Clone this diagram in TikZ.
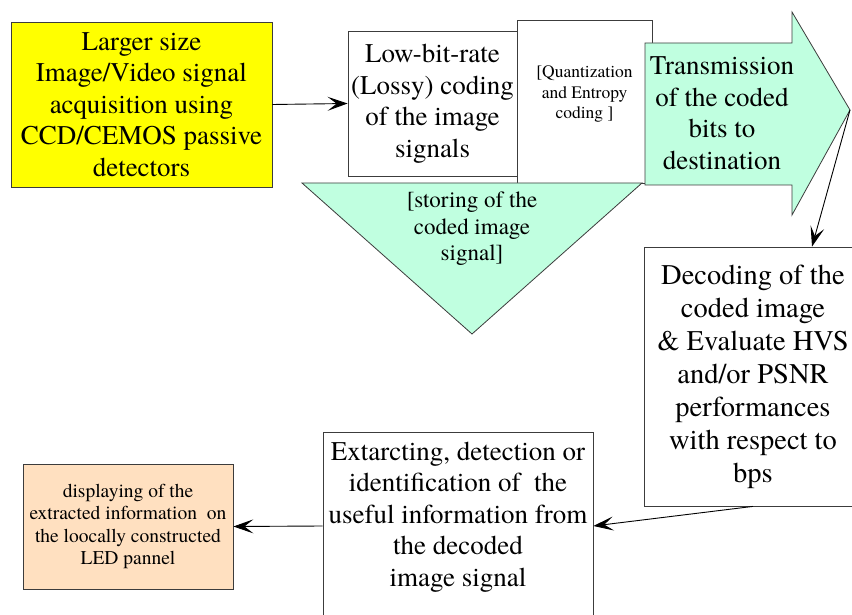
\documentclass[tikz,border=0pt]{standalone}
\usepackage{fontspec}
\setmainfont{TeX Gyre Termes}
\usetikzlibrary{arrows.meta,positioning,calc}
\definecolor{acqyellow}{RGB}{255,255,0}
\definecolor{txgreen}{RGB}{192,255,224}
\definecolor{disppeach}{RGB}{255,224,192}
\definecolor{edgegray}{RGB}{60,60,60}
\newcommand{\txtbig}{\fontsize{27}{31.5}\selectfont}
\newcommand{\txtdec}{\fontsize{28.5}{33}\selectfont}
\newcommand{\txtmid}{\fontsize{23}{26.5}\selectfont}
\newcommand{\txtsmall}{\fontsize{17.5}{20.5}\selectfont}
\newcommand{\txtdisp}{\fontsize{19.5}{22.3}\selectfont}

\begin{document}
\begin{tikzpicture}[x=1pt,y=-1pt,
  box/.style={draw=edgegray,line width=0.8pt,inner sep=0pt,align=center},
  conn/.style={-{Stealth[length=20pt,width=14pt,inset=9pt]},line width=0.9pt}]
  \useasboundingbox (0,0) rectangle (852,615);
  \node[box,fill=acqyellow,minimum width=261pt,minimum height=165pt,font=\txtbig] (acq) at (141.5,104.5) {Larger size\\Image/Video signal\\acquisition using\\CCD/CEMOS passive\\detectors};
  \node[box,fill=white,minimum width=169pt,minimum height=145pt,font=\txtbig] (lbr) at (432.5,103.5) {Low-bit-rate\\(Lossy) coding\\of the image\\signals};
  \node[box,fill=white,minimum width=135pt,minimum height=163pt] (quant) at (584.5,101.5) {};
  \node[font=\txtsmall,align=center] (quanttxt) at (584.5,94) {[Quantization\\and Entropy\\coding ]};
  % storing triangle
  \draw[edgegray,line width=0.8pt,fill=txgreen] (302,183) -- (642,183) -- (472,334) -- cycle;
  \node[font=\txtmid,align=center] (store) at (472,229) {[storing of the\\coded image\\signal]};
  % transmission arrow
  \coordinate (trtip) at (850,110);
  \draw[edgegray,line width=0.8pt,fill=txgreen] (645,43) -- (792,43) -- (792,12) -- (trtip) -- (792,215) -- (792,185) -- (645,185) -- cycle;
  \node[font=\txtbig,align=center] (trans) at (722,113) {Transmission\\of the coded\\bits to\\destination};
  \node[box,fill=white,minimum width=218pt,minimum height=259pt,font=\txtdec] (dec) at (753,376.5) {Decoding of the\\coded image\\\& Evaluate HVS\\and/or PSNR\\performances\\with respect to\\bps};
  \node[box,fill=white,minimum width=270pt,minimum height=188pt] (ext) at (458,526) {};
  \node[font=\txtbig,align=center] (exttxt) at (458,517) {Extarcting, detection or\\identification of~ the\\useful information from\\the decoded\\image signal};
  \node[box,fill=disppeach,minimum width=210pt,minimum height=125pt,font=\txtdisp] (disp) at (128,526.5) {displaying of the\\extracted information~ on\\the loocally constructed\\LED pannel};
  \draw[conn] (acq.east) -- (lbr.west);
  \draw[conn] (trtip) -- ([xshift=59pt]dec.north);
  \draw[conn] (dec.south) -- (ext.east);
  \draw[conn] (ext.west) -- (disp.east);
\end{tikzpicture}
\end{document}
